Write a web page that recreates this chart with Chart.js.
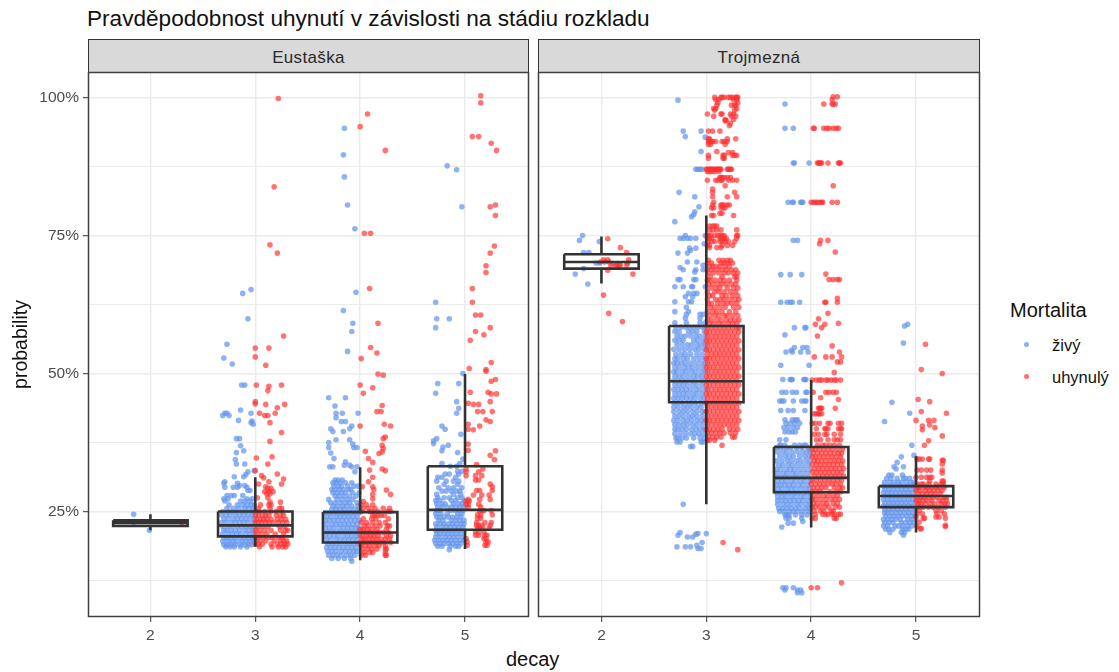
<!DOCTYPE html>
<html><head><meta charset="utf-8">
<script src="https://cdn.jsdelivr.net/npm/chart.js@4"></script>
<style>
html,body{margin:0;padding:0;background:#fff;width:1119px;height:672px;overflow:hidden;font-family:"Liberation Sans",Arial,sans-serif}
.t{position:absolute;white-space:nowrap}
canvas{position:absolute}
.strip{position:absolute;top:39px;height:32px;background:#d9d9d9;border:1px solid #333;text-align:center;line-height:35px;font-size:17px;color:#2a2a2a;letter-spacing:.35px}
.dot{position:absolute;width:5px;height:5px;border-radius:50%}
</style></head><body>
<div class="t" style="left:87px;top:6px;font-size:22.6px;color:#111">Pravděpodobnost uhynutí v závislosti na stádiu rozkladu</div>
<div class="strip" style="left:88px;width:439px">Eustaška</div>
<div class="strip" style="left:538px;width:440px">Trojmezná</div>
<div class="t" style="left:506px;top:648px;font-size:20px;color:#111">decay</div>
<div class="t" style="left:1010px;top:299px;font-size:20px;color:#111">Mortalita</div>
<div class="dot" style="left:1024px;top:342px;background:rgba(100,149,237,.75)"></div>
<div class="dot" style="left:1024px;top:374px;background:rgba(255,48,48,.7)"></div>
<div class="t" style="left:1052px;top:336px;font-size:16.5px;color:#111">živý</div>
<div class="t" style="left:1052px;top:368px;font-size:16.5px;color:#111">uhynulý</div>
<canvas id="left"></canvas>
<canvas id="right"></canvas>
<script>
// Each row: [probability %, then jitter offsets in hundredths of a decay unit]
const decayLevels=[2,3,4,5];
const yMajor=[25,50,75,100];
const yMinor=[12.5,37.5,62.5,87.5];
const eust2Alive=[[24.5,-16],[23,-16],[21.6,-1]];
const eust2Dead=[[23,30]];
const eust3Alive=[[64.5,-12],[65.2,-4],[59.9,-7],[55.3,-27],[52.8,-30],[51.7,-22],[47.9,-13,-10],[43.4,-14],[42.8,-4,-29,-27],[42.4,-31,-25],[41.5,-16],[41.4,-3],[41.1,-4],[40.8,-2],[38.2,-18,-15],[36.9,-14],[36,-11],[35.7,-18],[34.4,-19],[33.6,-18,-10],[32.4,-1],[32.2,-7],[31.7,-9],[31.3,-11,-20],[30.4,-29],[30.1,-30,-17],[29.7,-15,-10],[29.4,-29,-21,-17,-8],[28.8,-7,-5],[27.9,-27,-23,-20,-12],[27.3,-30,-26,-8,-3],[26.9,-29,-14,-10,-5],[26.2,-25,-17,-12,-8,-4,-1],[25.6,-27,-21,-16,-10,-6,-2],[25,-31,-26,-22,-18,-13,-9,-4,-1],[24.4,-32,-28,-24,-19,-15,-11,-7,-3],[23.7,-30,-26,-21,-17,-13,-9,-5,-1],[23,-32,-28,-23,-19,-15,-11,-7,-2],[22.3,-31,-26,-22,-17,-13,-9,-5,-1],[21.6,-30,-27,-23,-19,-15,-10,-6,-2],[20.9,-31,-26,-22,-18,-14,-9,-5,-1],[20.2,-30,-27,-23,-19,-14,-10,-6,-2],[19.6,-31,-26,-22,-18,-13,-9,-5,-1],[19,-30,-27,-23,-19,-14,-10,-6,-3],[18.6,-28,-24,-20,-14,-8]];
const eust3Dead=[[99.8,22],[83.8,18],[73.3,14],[71.8,21],[56.8,27],[54.6,0,13],[53,0],[51.5,10],[47.9,1,25],[47.7,13],[46.9,12],[44.9,0],[44.5,0],[44.4,10,28],[43.8,21],[42.8,4,19],[42.4,9,12],[41.1,14],[39.3,25],[37.7,14],[34.7,1],[34.9,16],[33.6,12],[32.4,0],[31.8,21],[31.5,6],[31.1,8],[30.9,27],[30.4,13],[30,25,3],[29.5,10],[29.2,12,15],[28.6,9,13,17],[28.2,11,14],[27.5,2,12],[26.7,24,14],[26.2,13,15,5],[25.6,3,14,23,25],[25,1,4,9,15,20,26],[24.3,0,3,7,10,13,20,24,27],[23.6,1,5,8,11,15,21,25,29],[23,0,3,6,10,13,17,22,26,30],[22.3,2,7,12,23,28],[21.6,0,4,9,15,24,29,31],[20.9,1,6,11,19,27],[20.3,0,3,8,13,16,22,26],[19.7,1,5,10,18,24,27,30],[19.1,0,3,7,15,21,25,28,31],[18.6,4,16,22,26,29]];
const eust4Alive=[[94.4,-15],[89.6,-16],[85.6,-15],[80.5,-12],[76.2,-5],[64.7,-4],[61.4,-16],[59.1,-7],[57.6,-8],[54,-12],[45.6,-30,-14],[44.1,-24],[42.8,-23,-17,-2],[42,-23],[41.3,-18,-14],[40.5,-8],[40,-28,-10],[39.5,-26,-16],[38,-23,-10],[37.5,-30],[37.2,-7],[36.6,-30,-6,-3],[35.6,-28],[34.6,-25],[34,-14],[33.4,-15,-10],[33.1,-29,-26,-8,-3],[32.2,-5],[30.7,-24,-21,-17],[30.2,-26,-23,-19,-14,-8],[29.6,-25,-21,-18,-12,-6,-2],[29,-27,-24,-20,-16,-11,-9],[28.4,-26,-22,-18,-14,-7,-1],[27.8,-24,-20,-15,-10,-4],[27.2,-30,-22,-17,-12,-7],[26.6,-28,-24,-19,-14,-10,-3],[26,-26,-22,-17,-13,-8,-2],[25.4,-27,-23,-19,-15,-10,-5,-1],[24.8,-33,-29,-25,-21,-17,-13,-9,-5,-1],[24.1,-32,-28,-23,-19,-15,-11,-7,-3],[23.4,-33,-29,-25,-21,-17,-13,-9,-5,-1],[22.7,-32,-27,-23,-19,-15,-11,-7,-3],[22,-33,-29,-25,-20,-16,-12,-8,-4,-1],[21.3,-31,-27,-23,-19,-15,-11,-7,-3],[20.6,-33,-29,-25,-21,-16,-12,-8,-4,-1],[19.9,-32,-28,-23,-19,-15,-11,-7,-3],[19.2,-31,-27,-23,-19,-14,-10,-6,-2],[18.5,-32,-28,-24,-20,-16,-12,-8,-4],[17.8,-31,-27,-23,-18,-14,-10,-6,-3],[17.1,-30,-26,-22,-18,-13,-9,-5],[16.5,-27,-21,-15,-9],[16,-8]];
const eust4Dead=[[97,7],[94.7,0],[90.4,24],[75.4,4,10],[65.4,9],[59.1,17],[54.7,10],[53.7,16],[52.7,1],[49.9,17],[49.7,22],[47.9,0],[47.4,12],[46.4,3],[44.2,21],[43.1,16,20],[40.8,23],[40.5,0,29],[38.5,24],[38.2,22],[37,21],[36.4,22],[35.9,5],[35.8,21],[35.5,18],[34.6,8],[33.9,12],[32.7,21],[32.5,9],[32.4,24],[31.2,12],[30.4,8],[29.5,2,12],[29,13],[28.9,25],[28.1,12,29],[27.3,12],[26.8,3],[26.2,1,12,6],[25.6,3,8,14,22,28],[25,1,9,12,17,26,29],[24.3,12,14,17,20,23],[23.7,3,11,15,27],[23,1,6,12,18,24],[22.4,4,8,14,19,26,28],[21.8,0,3,7,11,16,25],[21.2,2,5,9,14,18,22,27],[20.6,1,6,10,13,17,25,29],[20,2,4,8,12,16,20,24,28],[19.4,0,3,7,11,15,19,23,29],[18.8,1,5,9,14,18,24],[18.2,2,7,11,16,24,25],[17.6,4,9,12,24],[17.1,1,5,25,24]];
const eust5Alive=[[87.6,-17],[86.9,-8],[80.2,-3],[62.9,-28],[59.9,-27,-15],[58.3,-28],[50,-2],[48.2,-26,-6],[46.4,-28],[44.9,-8],[43.7,-6],[42.8,-8],[40.5,-22],[39.9,-19],[39,-4],[38.2,-27],[37.8,-30],[37.3,-30],[37,-16],[36.7,-21],[36,-22],[35.7,-7],[34.5,-2],[33.7,-5,-22],[33.2,-8,-14],[32.3,-3,-7],[31.8,-15,-19,-6],[31.2,-22,-26,-9],[30.5,-27,-18,-11,-6],[29.9,-20,-7],[29.3,-25,-16,-11,-3],[28.7,-22,-18,-13,-8,-5],[28.1,-27,-4,-11],[27.5,-26,-20,-15,-7,-3],[27,-24,-28,-13,-9,-1],[26.4,-27,-22,-19,-11,-6,-3],[25.8,-26,-22,-17,-13,-9,-5,-1],[25.2,-27,-24,-14,-10,-6,-2],[24.6,-28,-23,-17,-7,-3],[24,-27,-24,-20,-16,-12,-8,-4],[23.4,-25,-21,-13,-9,-5,-1],[22.8,-28,-24,-20,-16,-12,-8,-4,-1],[22.2,-27,-22,-18,-14,-10,-6,-2],[21.6,-28,-25,-21,-17,-13,-9,-5,-1],[21,-27,-24,-20,-16,-12,-8,-4],[20.4,-28,-24,-19,-15,-11,-7,-2],[19.8,-29,-25,-21,-17,-13,-9,-5,-1],[19.2,-28,-24,-20,-16,-12,-8,-4],[18.7,-26,-22,-14,-9,-6],[18.1,-15]];
const eust5Dead=[[100.3,15],[99,15],[92.9,7,13],[91.7,25],[90.4,30],[80.2,24],[80.5,29],[78.6,29],[73.1,28],[71.8,24],[69.5,20],[68.3,20],[65.4,7],[62.9,7],[60.6,10,15],[58.3,24],[57.6,10],[57,18],[56,5],[52,25],[50.9,4],[50.7,20],[50.4,20],[48.9,29],[48.6,25],[46.6,5,22],[46.3,25,30],[44.9,24],[44.6,3],[44.4,8,13],[43.1,12,17,26],[41.6,20],[41.3,24],[40.8,3],[40.5,14],[39.9,3],[39.8,8],[37.2,3],[36.1,3],[36,29],[35.2,24],[34.4,28],[33.5,11],[32.7,1,17],[32.2,1,13],[31.5,1,10,16],[30.7,10,13],[30,24],[29.5,26],[28.8,11,14,26],[28,8,16,23],[27.2,3,14,24],[26.9,1,4],[26.3,1,3,13],[25.8,3,15],[25.2,14,16,18,25],[24.4,12,15,26],[23.8,12,15],[23,11,19,25],[22.5,11,13,16,24],[22,12,14,17,23],[21.3,10,13,18],[20.7,10,13,19,21],[20.1,1,18,20],[19.5,2,20,22],[18.9,2,19,21]];
const troj2Alive=[[75,-18],[74.1,-21],[73.9,-2],[71.9,-17,-12],[70,-2,-5],[69,-17],[68,-25],[66.2,-13]];
const troj2Dead=[[74.4,6],[72.8,18],[71.9,24],[70.6,2,6,26],[70.2,-1,3,7],[70,25],[69.9,11],[69.7,15,18,24],[69.5,9,14,17],[68.7,6],[68,30],[64.2,2],[60.9,7],[59.4,20]];
const troj3Alive=[[99.5,-27],[93.9,-22,-5],[92.9,-20],[92.8,-1],[90.2,-5],[87,-10,-8,-4,-6],[82.8,-26],[82,-11],[80.2,-7],[79.3,-11],[78.8,-12],[78.4,-14],[77.5,-30],[75,-1,-20],[74.5,-22,-25,-15,-10,-18],[73.5,-2],[72.7,-16,-10],[72.3,-15],[71.8,-27,-18],[70.2,-18,-9],[69.6,-3],[69.2,-25],[68.8,-22,-10,-3],[68.4,-11],[67,-10,-12,-25,-27],[65.7,-30,-22,-14,-13,-1],[64.5,-9,-12,-17],[63.9,-13,-20],[63,-30,-17,-14],[62,-19],[61.2,-17,-30],[60.7,-19,-6,-3],[60,-20,-6],[59.2,-30,-19,-6,-1],[58.4,-29,-24,-20,-16,-12,-8,-4,-1],[57.6,-30,-26,-17,-13,-9,-2],[56.8,-28,-24,-20,-15,-10,-6,-1],[56,-30,-26,-22,-12,-8,-3],[55.2,-28,-23,-18,-14,-9,-5,-1],[54.4,-31,-26,-21,-16,-11,-7,-2],[53.5,-29,-24,-20,-15,-9,-4],[52.7,-30,-27,-22,-18,-12,-7,-2],[51.9,-31,-28,-24,-20,-15,-10,-5,-1],[51.1,-30,-26,-21,-17,-13,-8,-3],[50.3,-31,-28,-23,-19,-14,-10,-5,-1],[49.5,-30,-26,-22,-17,-12,-8,-4],[48.7,-31,-27,-23,-19,-14,-10,-5,-1],[47.9,-30,-26,-22,-18,-13,-9,-4],[47.1,-31,-27,-23,-19,-15,-10,-6,-1],[46.3,-30,-26,-22,-18,-13,-9,-4],[45.5,-31,-27,-23,-19,-15,-11,-6,-2],[44.7,-31,-27,-23,-18,-14,-10,-5,-1],[43.9,-31,-27,-22,-18,-14,-9,-5],[43.1,-31,-26,-22,-18,-13,-9,-4,-1],[42.3,-30,-26,-22,-17,-13,-9,-4],[41.5,-31,-27,-22,-18,-14,-9,-5,-1],[40.7,-30,-26,-22,-18,-13,-9,-4],[39.9,-30,-27,-23,-19,-14,-10,-6,-2],[39.1,-30,-25,-20,-15,-11,-7,-3],[38.3,-29,-27,-23,-19,-12,-6,-2],[37.6,-28,-25,-5,-3],[36.8,-15,-13],[26.3,-22],[21.2,-25],[20.9,-10],[21,-8,0],[20.7,-27],[20.4,-18,-13],[19.4,-4],[18.9,-9],[18.6,-28,-20,-15],[18.3,-8,-5]];
const troj3Dead=[[100,8,14,15,17,21,23,25,28,30,29],[99.6,9,12,26,29],[99,11,30],[98.6,10,24,28,27],[98,7,9,29],[97.7,8,27],[97,1,14,15,26,23],[96.6,7,28,24],[96,18,26],[95.8,18,19],[95.3,23],[94.9,22],[93.9,2,6,13],[92.5,2,3,28,20],[92,2,3,4,5,6,9,15,17,20],[91.5,2,4,18],[90.2,10],[90,25,21],[89.5,2,17,16,25,29,27],[89,2,16,17],[87,0,1,2,3,4,5,6,7,9,10,11,12,13,14,20,21,22,23,24],[86.6,1,3,5,8,12],[85.5,13,14,15,17,20,23],[85,1,9,11,14,15,21,25,29],[84,18],[83.4,6],[82.8,6,27],[82,6,29,20],[81,7],[80.5,6,14,15,17,20,22],[80,5,7,14,16,18],[79,15,13],[78.6,7,5,26],[76.7,8,10,3,6],[76,3,6,10,14,29],[75,1,2,4,8,11,13,15,17,29,30],[74.5,1,3,5,13,15,17,19,29],[73.9,2,5,8,13,15,18,21,27],[73.2,1,3,15,20,25],[72.8,3,10,14],[70.5,2,12,16,20,23],[70,1,5,14,17,21,25],[69.4,3,6,9,13,18,22],[68.8,1,5,10,15,19,24,28],[68.2,2,7,12,17,21,26,30],[67.5,4,15,27,29],[66.9,1,3,8,13,17,22,29],[66.2,2,6,11,15,19,24,28],[65.5,4,9,13,20,26,30],[64.8,1,8,12,17,23,28],[64.1,3,6,15,19,25,30],[63.4,1,9,13,17,22,27,31],[62.7,2,5,11,16,20,24,29],[62,4,8,13,18,26,31],[61.2,1,6,10,15,22,28],[60.5,3,8,12,17,20,25,30],[59.7,1,5,10,14,19,23,27,31],[59,3,7,12,16,21,25,29],[58.3,1,5,9,13,17,21,25,29,31],[57.5,0,3,7,11,15,19,23,27,31],[56.7,1,5,9,13,17,21,25,29],[55.9,0,3,7,11,15,19,23,27,31],[55.1,1,5,9,13,17,21,25,29],[54.3,0,3,7,11,15,19,23,27,31],[53.5,1,5,9,13,17,21,25,29],[52.7,0,3,7,11,15,19,23,27,31],[51.9,1,5,9,13,17,21,25,29],[51.1,0,3,7,11,15,19,23,27,31],[50.3,1,5,9,13,17,21,25,29],[49.5,0,3,7,11,15,19,23,27,31],[48.7,1,5,9,13,17,21,25,29],[47.9,0,3,7,11,15,19,23,27,31],[47.1,1,5,9,13,17,21,25,29],[46.3,0,3,7,11,15,19,23,27,31],[45.5,1,5,9,13,17,21,25,29],[44.7,0,3,7,11,15,19,23,27,31],[43.9,1,5,9,13,17,21,25,29],[43.1,0,3,7,11,15,19,23,27,31],[42.3,1,5,9,13,17,21,25,29],[41.5,0,3,7,11,15,19,23,27,31],[40.7,1,5,9,13,17,21,25,29],[39.9,0,3,7,11,15,22,26,30],[39.2,1,5,9,13,17,23,28],[38.5,2,6,10,14,25,27],[37.9,1,3,8],[37,15],[19.4,16],[18.1,30]];
const troj4Alive=[[98.8,-25],[94.4,-25,-17],[88.1,-17,-16,-2],[81,-22,-18,-17,-10,-9,-8],[74.1,-17,-13],[67.9,-29,-20,-9],[62.9,-29,-23,-20,-18,-11],[58.3,-16,-6,-5],[57,-25],[54.7,-16,-8,-4],[54.2,-19],[53.9,-24,-18,-10,-3],[51.5,-29,-2],[48.9,-27,-20,-19,-18,-7,-6,-5],[46.6,-28,-24,-18,-14,-5,-4],[45,-30,-28,-26,-17,-9,-6,-5],[43.3,-29,-22,-17,-6],[41.6,-25,-15,-13,-18],[41,-24,-20,-16,-11],[40.2,-26,-22,-17,-13],[39.4,-25,-21,-18,-15],[38,-24,-30],[37,-30,-29,-25,-16,-11,-7,-5],[36.6,-33,-29,-24,-20,-14,-9,-3],[35.8,-32,-27,-23,-18,-13,-8,-4,-1],[35,-30,-25,-21,-17,-11,-6,-2],[34.2,-33,-28,-23,-19,-14,-10,-5,-1],[33.4,-31,-27,-22,-18,-13,-8,-3],[32.6,-33,-29,-24,-20,-16,-11,-6,-1],[31.9,-32,-27,-23,-18,-14,-9,-4],[31.2,-33,-29,-25,-21,-16,-12,-7,-2],[30.5,-32,-28,-24,-19,-15,-10,-6,-1],[29.8,-33,-29,-25,-21,-17,-12,-8,-3],[29.1,-32,-28,-23,-19,-15,-10,-5,-1],[28.4,-33,-29,-25,-21,-16,-12,-7,-3],[27.7,-32,-28,-24,-19,-15,-10,-6,-1],[27,-32,-28,-24,-20,-16,-12,-8,-3],[26.3,-32,-27,-23,-19,-14,-10,-5,-1],[25.6,-31,-27,-23,-19,-15,-11,-6,-2],[25,-30,-26,-21,-17,-13,-8,-3],[24.4,-25,-23,-21,-15,-9,-4],[23.8,-24,-21,-9],[23.2,-8],[22.9,-22,-17],[22.2,-28],[11.2,-27,-24,-17],[10.8,-25,-13,-10],[10.3,-9,-13]];
const troj4Dead=[[100.1,21,25],[99.6,20],[98.8,12,20,21,23],[94.4,2,3,12,15,17,21,24,26],[88.1,6,7,8,9,10,16,26,27,28],[84,21],[81,0,2,4,6,8,10,11,20,25],[74.1,9,16],[73.5,8],[72,23],[68,14],[67,17,21,27,25],[63.6,25],[62.9,13,14,25],[60.9,16],[59.9,7],[59.1,26],[58.9,4,13],[58.3,10],[56.8,6],[55,20],[53.9,27],[53,29,3,14,20],[52.1,25,28],[50.2,22],[48.8,1,5,8,10,14,16,19,22,24,28],[46.6,2,14,17,21,24],[45.6,9],[45.3,26],[43.7,7,8,9,10,23],[42.7,3,5,7,8,10],[41,1,4,8,16,18,26,29],[40,5,13,14,16,26,28,29],[39,3,7,13,15,22,28],[38,5,9,16,22,25,28],[37,6,11,14,18,22,27],[36.3,1,4,8,12,16,20,25,30],[35.6,2,6,10,14,18,22,26,29],[34.9,1,4,8,12,16,20,24,28],[34.2,3,6,10,14,18,22,26,30],[33.5,1,5,9,13,17,21,25,29],[32.8,3,7,11,15,19,23,27,31],[32.1,1,5,9,13,17,21,25,29],[31.4,3,7,11,15,19,23,27,31],[30.7,1,5,9,13,17,21,25,29],[30,0,4,8,12,16,20,24,28],[29.3,2,6,10,14,22,27,30],[28.6,1,5,9,18,24,28],[27.9,2,7,12,16,21,25],[27.2,1,4,9,14,19,23,27],[26.5,2,6,11,15,21,25],[25.8,1,4,8,13,17,23,27],[25.1,3,9,12,19,21],[24.5,4,11,14,16,20,22,26,28],[23.8,1,4,22,24],[11.2,0,6],[12.1,29]];
const troj5Alive=[[58.9,-8],[58.6,-11],[55.5,-12],[44.8,-23],[42.8,-6],[41.3,-30],[37,-4],[35.2,-2],[34.9,-14],[33.9,-18],[33.1,-21,-12],[32.7,-19],[31.6,-26,-23,-13],[31,-28,-24,-18,-12,-10,-6],[30.3,-30,-25,-21,-17,-14,-9,-5,-2],[29.6,-31,-27,-23,-19,-15,-11,-7,-3],[29,-30,-26,-22,-18,-14,-10,-6,-1],[28.4,-31,-27,-23,-19,-15,-11,-7,-3],[27.8,-30,-26,-22,-18,-14,-10,-6,-1],[27.2,-31,-27,-23,-19,-15,-11,-7,-3],[26.6,-30,-26,-22,-18,-14,-10,-6,-1],[26,-31,-27,-23,-19,-15,-11,-7,-3],[25.4,-30,-26,-22,-18,-14,-10,-6,-1],[24.8,-30,-27,-23,-19,-15,-11,-7,-3],[24.2,-29,-25,-21,-17,-13,-9,-5,-1],[23.6,-31,-27,-23,-19,-15,-8,-4],[23,-30,-26,-22,-14,-10,-6,-2],[22.4,-31,-27,-20,-17,-13,-8,-4],[21.8,-29,-26,-22,-13,-10,-7],[21.2,-25,-14,-11],[20.7,-12]];
const troj5Dead=[[55.3,9],[50.7,5],[50,25],[45.3,2],[44.9,13],[43.1,5],[42.8,29],[41.5,0,12,17],[40.7,13],[40.5,6],[40.2,18],[39.8,6],[38.7,25],[37.8,12],[37,8],[34.5,1,3,6,12,13],[34.3,25,26],[33.6,25],[32.5,1,5,10,14,25],[32,25],[31.2,0,5,10,13,15],[30.5,25,26,13],[30,1,5,7,12,19,24,26],[29.4,1,3,8,11,15,19,22,27],[28.8,0,4,9,13,17,21,25],[28.2,2,6,10,14,18,23],[27.6,1,5,8,12,16,20,26,29],[27,0,3,6,10,15,22,25,29],[26.4,2,5,9,14,18,24,27,30],[25.8,1,4,7,12,16,21,28],[25.2,3,19,24],[24.6,1,6,20,27],[24,0,19,22],[23.8,8,7,28],[23.1,3],[22.5,28],[22.3,1,28],[21.9,4,5]];
// Box statistics per decay level 2..5
const eustLow=[21.6,18.6,16.2,18.2], eustQ1=[22.4,20.5,19.4,21.7], eustMed=[23,22.5,21.2,25.3], eustQ3=[23.4,25,24.9,33.2], eustHigh=[24.5,31.2,33,49.9];
const trojLow=[66.3,26.3,22.1,21.2], trojQ1=[69,44.8,28.5,25.8], trojMed=[70.2,48.6,31.1,27.8], trojQ3=[71.6,58.6,36.7,29.6], trojHigh=[74.8,78.6,48.8,35];

const ALIVE='rgba(100,149,237,.72)', DEAD='rgba(255,48,48,.68)', INK='#333333';
const toPoints=(groups)=>groups.flatMap((rows,i)=>rows.flatMap(([y,...off])=>off.map(o=>({x:decayLevels[i]+o/100,y}))));
const boxPath=(low,q1,med,q3,high)=>{
  const halfWidth=.355, p=[];
  decayLevels.forEach((d,i)=>{
    const L=d-halfWidth,R=d+halfWidth;
    p.push({x:L,y:q3[i]},{x:R,y:q3[i]},{x:R,y:q1[i]},{x:L,y:q1[i]},{x:L,y:q3[i]},{x:d,y:null});
    p.push({x:L,y:med[i]},{x:R,y:med[i]},{x:d,y:null});
    p.push({x:d,y:q3[i]},{x:d,y:high[i]},{x:d,y:null});
    p.push({x:d,y:q1[i]},{x:d,y:low[i]},{x:d,y:null});
  });
  return p;
};
const frame={id:'frame',afterDatasetsDraw(c){const a=c.chartArea,g=c.ctx;g.save();g.strokeStyle='#404040';g.lineWidth=1.5;g.strokeRect(Math.round(a.left)+.5,Math.round(a.top)+.5,Math.round(a.right-a.left)-1,Math.round(a.bottom-a.top)-1);g.restore();}};
const noPad=s=>{s.paddingTop=0;s.paddingBottom=0;s.paddingLeft=0;s.paddingRight=0};

function panel(id,cfg){
  const cv=document.getElementById(id);
  cv.style.left=cfg.left+'px';cv.style.top='64px';cv.width=cfg.width;cv.height=608;
  cv.style.width=cfg.width+'px';cv.style.height='608px';
  new Chart(cv,{type:'scatter',
    data:{datasets:[
      {label:'box',data:cfg.box,showLine:true,spanGaps:false,borderColor:INK,borderWidth:2.6,pointRadius:0,order:0,borderJoinStyle:'miter'},
      {label:'uhynulý',data:cfg.dead,backgroundColor:DEAD,borderWidth:0,pointRadius:2.8,order:1},
      {label:'živý',data:cfg.alive,backgroundColor:ALIVE,borderWidth:0,pointRadius:2.8,order:2}
    ]},
    options:{responsive:false,animation:false,events:[],
      layout:{autoPadding:false,padding:{top:8,left:0,right:cfg.padRight,bottom:0}},
      plugins:{legend:{display:false},tooltip:{enabled:false},title:{display:false}},
      scales:{
        x:{type:'linear',min:cfg.xMin,max:cfg.xMax,
          afterBuildTicks:s=>{s.ticks=decayLevels.map(value=>({value}))},
          afterFit:s=>{s.height=55;noPad(s)},
          grid:{color:'#ebebeb',lineWidth:1.4,tickColor:INK,tickLength:5,tickWidth:1},
          border:{display:false},
          ticks:{autoSkip:false,maxRotation:0,padding:4,color:'#4d4d4d',font:{family:'"Liberation Sans"',size:15.5},callback:v=>String(v)}},
        y:{type:'linear',min:5.9,max:104.6,
          afterBuildTicks:s=>{s.ticks=[...yMinor,...yMajor].sort((a,b)=>a-b).map(value=>({value}))},
          afterFit:s=>{s.width=cfg.axisWidth;noPad(s)},
          title:cfg.showY?{display:true,text:'probability',color:'#111',font:{family:'"Liberation Sans"',size:19.5},padding:{top:10,bottom:0}}:{display:false},
          border:{display:false},
          grid:{color:'#ebebeb',lineWidth:c=>c.tick&&yMajor.includes(c.tick.value)?1.4:1,
            drawTicks:cfg.showY,tickLength:5,tickWidth:1,tickColor:c=>c.tick&&yMajor.includes(c.tick.value)?INK:'rgba(0,0,0,0)'},
          ticks:{display:cfg.showY,autoSkip:false,padding:4,color:'#4d4d4d',font:{family:'"Liberation Sans"',size:15.5},
            callback:v=>yMajor.includes(v)?v+'%':''}}
      }},
    plugins:[frame]});
}
panel('left',{left:0,width:534,padRight:5,axisWidth:88,xMin:1.405,xMax:5.61,showY:true,
  alive:toPoints([eust2Alive,eust3Alive,eust4Alive,eust5Alive]),
  dead:toPoints([eust2Dead,eust3Dead,eust4Dead,eust5Dead]),
  box:boxPath(eustLow,eustQ1,eustMed,eustQ3,eustHigh)});
panel('right',{left:530,width:455,padRight:5,axisWidth:8,xMin:1.395,xMax:5.61,showY:false,
  alive:toPoints([troj2Alive,troj3Alive,troj4Alive,troj5Alive]),
  dead:toPoints([troj2Dead,troj3Dead,troj4Dead,troj5Dead]),
  box:boxPath(trojLow,trojQ1,trojMed,trojQ3,trojHigh)});
</script>
</body></html>
